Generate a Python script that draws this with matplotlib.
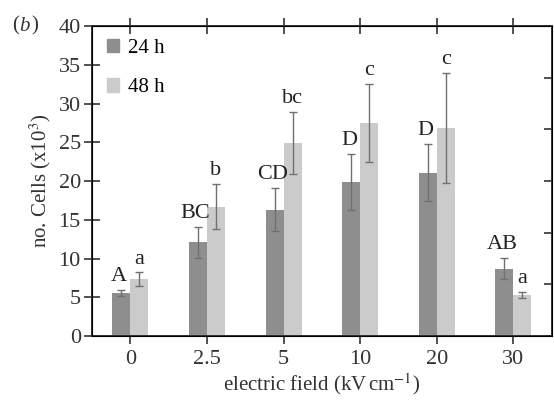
import numpy as np
import matplotlib
matplotlib.use("Agg")
import matplotlib.pyplot as plt
from matplotlib.patches import Patch

# values (no. cells x10^3)
fields = ["0", "2.5", "5", "10", "20", "30"]
cells_24h = [5.6, 12.1, 16.3, 19.9, 21.1, 8.7]
err_24h = [0.4, 2.0, 2.8, 3.6, 3.7, 1.4]
cells_48h = [7.3, 16.7, 24.9, 27.5, 26.9, 5.3]
err_48h = [0.9, 2.9, 4.0, 5.0, 7.1, 0.4]
letters_24h = ["A", "BC", "CD", "D", "D", "AB"]
letters_48h = ["a", "b", "bc", "c", "c", "a"]

plt.rcParams["font.family"] = ["Liberation Serif", "DejaVu Serif"]
plt.rcParams["mathtext.fontset"] = "stix"

dark = "#8e8e8e"
light = "#cbcbcb"
ecol = "#707070"
txt = "#333333"

fig = plt.figure(figsize=(5.54, 4.01), dpi=100)
ax = fig.add_axes([0.166, 0.162, 0.830, 0.773])

x = np.arange(len(fields))
w = 0.235
ax.bar(x - w / 2, cells_24h, w, color=dark, zorder=2)
ax.bar(x + w / 2, cells_48h, w, color=light, zorder=2)
ax.errorbar(x - w / 2, cells_24h, yerr=err_24h, fmt="none", ecolor=ecol,
            elinewidth=1.0, capsize=3, capthick=1.0, zorder=3)
ax.errorbar(x + w / 2, cells_48h, yerr=err_48h, fmt="none", ecolor=ecol,
            elinewidth=1.0, capsize=3, capthick=1.0, zorder=3)

# significance letters sit just above each error bar
for i in range(len(fields)):
    ax.text(x[i] - w / 2 - 0.03, cells_24h[i] + err_24h[i] + 0.5, letters_24h[i],
            ha="center", va="bottom", fontsize=16, color="#222222")
    ax.text(x[i] + w / 2, cells_48h[i] + err_48h[i] + 0.5, letters_48h[i],
            ha="center", va="bottom", fontsize=16, color="#222222")

ax.set_xlim(-0.5, 5.5)
ax.set_ylim(0, 40)
ax.set_yticks(np.arange(0, 41, 5))
ax.set_xticks(x)
ax.set_xticklabels(fields)
ax.tick_params(axis="both", direction="inout", length=12, width=1.2,
               labelsize=16, colors=txt, top=True)
ax.tick_params(axis="x", pad=4)
ax.tick_params(axis="y", pad=2)
for s in ax.spines.values():
    s.set_linewidth(1.4)
    s.set_color(txt)

# right-hand ticks in the original use six divisions
ax2 = ax.twinx()
ax2.set_ylim(0, 6)
ax2.set_yticks(np.arange(0, 7))
ax2.tick_params(axis="y", direction="in", length=6, width=1.2,
                labelright=False, colors=txt)

ax.set_xlabel("electric field (kV$\\,$cm$^{-1}$)", fontsize=15, color=txt,
              labelpad=2)
ax.set_ylabel("no. Cells (x10$^{3}$)", fontsize=15, color=txt, labelpad=4)

handles = [Patch(color=dark, label="24 h"), Patch(color=light, label="48 h")]
ax.legend(handles=handles, loc="upper left", frameon=False, fontsize=15,
          handlelength=0.6, handleheight=0.6, handletextpad=0.4,
          labelspacing=1.0, borderaxespad=0.2, bbox_to_anchor=(0.005, 1.0))

fig.text(0.022, 0.935, "(", fontsize=15, va="center", color=txt)
fig.text(0.034, 0.935, "b", fontsize=15, va="center", style="italic", color=txt)
fig.text(0.057, 0.935, ")", fontsize=15, va="center", color=txt)

fig.savefig("out.png", dpi=100)
